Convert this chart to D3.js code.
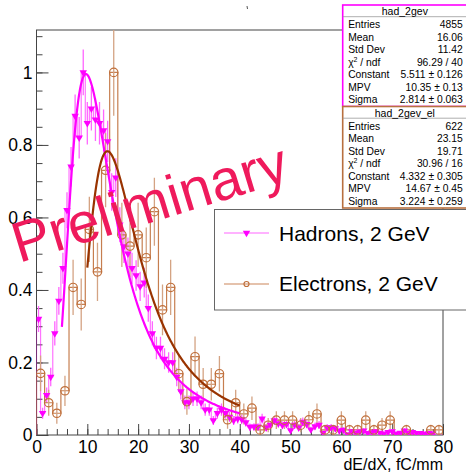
<!DOCTYPE html>
<html lang="en">
<title>dE/dX, 2 GeV hadrons and electrons</title>
<meta charset="UTF-8">
<script src="https://d3js.org/d3.v7.min.js"></script>
<style>
  body { margin: 0; background: #fff; }
  svg { font-family: "Liberation Sans", Arial, sans-serif; }
</style>
<body>
<div id="chart"></div>
<script>

// binning of both histograms, dE/dX in fC/mm
var xMin = 0, xMax = 80;

// hadrons, 2 GeV: 100 bins, normalised to the highest bin
var hadValues = [
  0.32, 0.06, 0.11, 0.16, 0.28, 0.37, 0.46, 0.62, 0.74, 0.88,
  0.82, 1.00, 0.86, 0.90, 0.87, 0.86, 0.84, 0.81, 0.67, 0.71,
  0.58, 0.52, 0.50, 0.46, 0.44, 0.41, 0.42, 0.35, 0.28, 0.24,
  0.24, 0.21, 0.20, 0.20, 0.16, 0.12, 0.09, 0.09, 0.10, 0.10,
  0.09, 0.07, 0.07, 0.04, 0.06, 0.07, 0.06, 0.05, 0.04, 0.045,
  0.043, 0.035, 0.022, 0.023, 0.023, 0.045, 0.02, 0.028, 0.04, 0.032,
  0.027, 0.03, 0.013, 0.028, 0.02, 0.036, 0.03, 0.015, 0.024, 0.028,
  0.006, 0.021, 0.021, 0.018, 0.012, 0.014, 0.002, 0.01, 0.006, 0.009,
  0.012, 0.005, 0.007, 0.01, 0.006, 0.004, 0.008, 0.01, 0.004, 0.006,
  0.012, 0.006, 0.008, 0.005, 0.005, 0.003, 0.005, 0.004, 0, 0
];

// electrons, 2 GeV: 50 bins, normalised to the highest bin
var elValues = [
  0.17, 0.089, 0.06, 0.122, 0.407, 0.36, 0.567, 0.45, 0.73, 1.0,
  0.552, 0.521, 0.552, 0.489, 0.616, 0.345, 0.407, 0.169, 0.092, 0.216,
  0.14, 0.14, 0.169, 0.042, 0.089, 0.058, 0.074, 0.014, 0.027, 0.041,
  0.041, 0.041, 0.027, 0.042, 0.058, 0.014, 0.014, 0.041, 0.014, 0.014,
  0.041, 0.014, 0.027, 0.041, 0, 0.014, 0, 0, 0.014, 0.014
];

// entries in the highest bin (for the sqrt(N) error bars)
var hadPeakCount = 250, elPeakCount = 70;

// landau fits, parameters as printed in the stat boxes
var hadFit = {constant: 5.511, mpv: 10.35, sigma: 2.814, from: 5, to: 40};
var elFit = {constant: 4.332, mpv: 14.67, sigma: 3.224, from: 10, to: 40};

var xTicks = [0, 10, 20, 30, 40, 50, 60, 70, 80];
var yTicks = [0, 0.2, 0.4, 0.6, 0.8, 1];

var hadStats = [
  ["Entries", "4855"], ["Mean", "16.06"], ["Std Dev", "11.42"], ["chi", "96.29 / 40"],
  ["Constant", "5.511 \u00b1 0.126"], ["MPV", "10.35 \u00b1 0.13"], ["Sigma", "2.814 \u00b1 0.063"]
];
var elStats = [
  ["Entries", "622"], ["Mean", "23.15"], ["Std Dev", "19.71"], ["chi", "30.96 / 16"],
  ["Constant", "4.332 \u00b1 0.305"], ["MPV", "14.67 \u00b1 0.45"], ["Sigma", "3.224 \u00b1 0.259"]
];

var magenta = "#ff00ff", brown = "#c0703c", brownFit = "#993300";

// ROOT's TMath::Landau (CERNLIB denlan), only the ranges needed here
var p1 = [0.4259894875, -0.1249762550, 0.03984243700, -0.006298287635, 0.001511162253],
    q1 = [1.0, -0.3388260629, 0.09594393323, -0.01608042283, 0.003778942063],
    p2 = [0.1788541609, 0.1173957403, 0.01488850518, -0.001394989411, 0.0001283617211],
    q2 = [1.0, 0.7428795082, 0.3153932961, 0.06694219548, 0.008790609714],
    p3 = [0.1788544503, 0.09359161662, 0.006325387654, 0.00006611667319, -0.000002031049101],
    q3 = [1.0, 0.6097809921, 0.2560616665, 0.04746722384, 0.006957301675],
    p4 = [0.9874054407, 118.6723273, 849.2794360, -743.7792444, 427.0262186],
    q4 = [1.0, 106.8615961, 337.6496214, 2016.712389, 1597.063511],
    p5 = [1.003675074, 167.5702434, 4789.711289, 21217.86767, -22324.94910],
    q5 = [1.0, 156.9424537, 3745.310488, 9834.698876, 66924.28357];

function poly(c, t) { return c[0] + t * (c[1] + t * (c[2] + t * (c[3] + t * c[4]))); }

function landau(x, mpv, sigma) {
  var v = (x - mpv) / sigma, u;
  if (v < -5.5) return 0;
  if (v < -1) { u = Math.exp(-v - 1); return Math.exp(-u) * Math.sqrt(u) * poly(p1, v) / poly(q1, v); }
  if (v < 1) return poly(p2, v) / poly(q2, v);
  if (v < 5) return poly(p3, v) / poly(q3, v);
  u = 1 / v;
  if (v < 12) return u * u * poly(p4, u) / poly(q4, u);
  return u * u * poly(p5, u) / poly(q5, u);
}

// canvas
var W = 466, H = 472;
var svg = d3.select("#chart").append("svg")
  .attr("width", W)
  .attr("height", H);

var x = d3.scaleLinear().domain([xMin, xMax]).range([36.5, 443]);
var y = d3.scaleLinear().domain([0, 1.117]).range([435, 30]);

svg.append("clipPath").attr("id", "frame")
  .append("rect")
    .attr("x", x(xMin)).attr("y", y(1.117))
    .attr("width", x(xMax) - x(xMin)).attr("height", y(0) - y(1.117));

// axes, ticks pointing into the frame like ROOT
var xMinor = d3.range(0, 81, 2);
var yMinor = d3.range(0, 1.11, 0.05);

svg.append("g")
  .attr("transform", "translate(0," + y(0) + ")")
  .call(d3.axisBottom(x).tickValues(xMinor).tickSize(-6).tickFormat(""))
  .call(function(g) { g.select(".domain").remove(); });
var xAxis = svg.append("g")
  .attr("transform", "translate(0," + y(0) + ")")
  .call(d3.axisBottom(x).tickValues(xTicks).tickSize(-11).tickPadding(6).tickFormat(d3.format("d")));
xAxis.select(".domain").remove();
xAxis.selectAll("text").style("font-size", "17.5px").attr("fill", "#000");

svg.append("g")
  .attr("transform", "translate(" + x(0) + ",0)")
  .call(d3.axisLeft(y).tickValues(yMinor).tickSize(-6).tickFormat(""))
  .call(function(g) { g.select(".domain").remove(); });
var yAxis = svg.append("g")
  .attr("transform", "translate(" + x(0) + ",0)")
  .call(d3.axisLeft(y).tickValues(yTicks).tickSize(-12).tickPadding(4).tickFormat(d3.format("~g")));
yAxis.select(".domain").remove();
yAxis.selectAll("text").style("font-size", "17.5px").attr("fill", "#000");
svg.selectAll(".tick line").attr("stroke", "#444");

// frame
svg.append("rect")
  .attr("x", x(xMin)).attr("y", y(1.117))
  .attr("width", x(xMax) - x(xMin)).attr("height", y(0) - y(1.117))
  .attr("fill", "none").attr("stroke", "#444").attr("stroke-width", 1);

svg.append("text")
  .attr("x", x(xMax)).attr("y", 470)
  .style("text-anchor", "end").style("font-size", "16px")
  .text("dE/dX, fC/mm");

// small stray mark above the frame
svg.append("line").attr("x1", 247).attr("x2", 247.5).attr("y1", 6).attr("y2", 9)
  .attr("stroke", "#555").attr("stroke-width", 1);

var plot = svg.append("g").attr("clip-path", "url(#frame)");

function bins(values, peakCount) {
  var w = (xMax - xMin) / values.length;
  return values.map(function(v, i) {
    return {lo: xMin + i * w, hi: xMin + (i + 1) * w, mid: xMin + (i + 0.5) * w,
            v: v, err: Math.sqrt(v / peakCount)};
  });
}

function drawHist(values, peakCount, lineColor, barColor, lineOpacity) {
  var b = bins(values, peakCount);
  var steps = [[xMin, 0]];
  b.forEach(function(d) { steps.push([d.lo, d.v]); steps.push([d.hi, d.v]); });
  steps.push([xMax, 0]);
  plot.append("path")
    .attr("d", d3.line().x(function(d) { return x(d[0]); }).y(function(d) { return y(d[1]); })(steps))
    .attr("fill", "none").attr("stroke", lineColor).attr("stroke-opacity", lineOpacity).attr("stroke-width", 1.2);
  plot.append("g").selectAll("line")
    .data(b.filter(function(d) { return d.v > 0; }))
    .enter().append("line")
      .attr("x1", function(d) { return x(d.mid); })
      .attr("x2", function(d) { return x(d.mid); })
      .attr("y1", function(d) { return y(d.v - d.err); })
      .attr("y2", function(d) { return y(d.v + d.err); })
      .attr("stroke", barColor).attr("stroke-width", 1.3);
  return b.filter(function(d) { return d.v > 0; });
}

function drawFit(f, color) {
  var pts = d3.range(f.from, f.to + 0.001, 0.1).map(function(t) {
    return [t, f.constant * landau(t, f.mpv, f.sigma)];
  });
  plot.append("path")
    .attr("d", d3.line().x(function(d) { return x(d[0]); }).y(function(d) { return y(d[1]); })(pts))
    .attr("fill", "none").attr("stroke", color).attr("stroke-width", 2.2);
}

var hadPts = drawHist(hadValues, hadPeakCount, magenta, "#ff66ff", 0.55);
var elPts = drawHist(elValues, elPeakCount, brown, "#d4a383", 0.9);

var triangle = d3.symbol().type(d3.symbolTriangle).size(24);
plot.append("g").selectAll("path")
  .data(hadPts)
  .enter().append("path")
    .attr("d", triangle)
    .attr("transform", function(d) { return "translate(" + x(d.mid) + "," + y(d.v) + ") rotate(180)"; })
    .attr("fill", magenta);

plot.append("g").selectAll("circle")
  .data(elPts)
  .enter().append("circle")
    .attr("cx", function(d) { return x(d.mid); })
    .attr("cy", function(d) { return y(d.v); })
    .attr("r", 4.2)
    .attr("fill", "none").attr("stroke", brown).attr("stroke-width", 1.2);

drawFit(hadFit, magenta);
drawFit(elFit, brownFit);

// legend
var legend = svg.append("g");
legend.append("rect")
  .attr("x", 214.5).attr("y", 209.5).attr("width", 260).attr("height", 100.5)
  .attr("fill", "#fff").attr("stroke", "#666");
legend.append("line").attr("x1", 224).attr("x2", 269).attr("y1", 233).attr("y2", 233)
  .attr("stroke", "#ff99ff").attr("stroke-width", 1.5);
legend.append("path").attr("d", triangle)
  .attr("transform", "translate(246.5,233) rotate(180)").attr("fill", magenta);
legend.append("line").attr("x1", 224).attr("x2", 269).attr("y1", 284).attr("y2", 284)
  .attr("stroke", "#dcae90").attr("stroke-width", 1.5);
legend.append("circle").attr("cx", 246.5).attr("cy", 284).attr("r", 2.5)
  .attr("fill", "none").attr("stroke", brown).attr("stroke-width", 1.2);
legend.append("text").attr("x", 279).attr("y", 241).style("font-size", "21px").text("Hadrons, 2 GeV");
legend.append("text").attr("x", 279).attr("y", 291).style("font-size", "21px").text("Electrons, 2 GeV");

// stat boxes
function statBox(top, title, rows, color) {
  var g = svg.append("g");
  var left = 342.7, right = 467, h = 101.5;
  g.append("rect").attr("x", left).attr("y", top).attr("width", right - left).attr("height", h)
    .attr("fill", "#fff").attr("stroke", color).attr("stroke-width", 1.6);
  g.append("line").attr("x1", left).attr("x2", right).attr("y1", top + 11.7).attr("y2", top + 11.7)
    .attr("stroke", "#999").attr("stroke-width", 0.8);
  g.append("text").attr("x", (left + right) / 2).attr("y", top + 10)
    .style("text-anchor", "middle").style("font-size", "10.5px").text(title);
  rows.forEach(function(r, i) {
    var by = top + 23 + i * 12.55;
    var t = g.append("text").attr("x", left + 5.5).attr("y", by).style("font-size", "10.3px");
    if (r[0] === "chi") {
      t.append("tspan").text("\u03c7");
      t.append("tspan").attr("dy", -4).style("font-size", "7px").text("2");
      t.append("tspan").attr("dy", 4).text(" / ndf");
    } else {
      t.text(r[0]);
    }
    g.append("text").attr("x", 462.7).attr("y", by)
      .style("text-anchor", "end").style("font-size", "10.3px").text(r[1]);
  });
}
statBox(5, "had_2gev", hadStats, magenta);
statBox(106.5, "had_2gev_el", elStats, "#b8703f");

// watermark
svg.append("text")
  .attr("transform", "translate(19,263) rotate(-17)")
  .style("font-size", "57px")
  .attr("fill", "#ef1a5c")
  .text("Preliminary");

</script>
</body>
</html>
